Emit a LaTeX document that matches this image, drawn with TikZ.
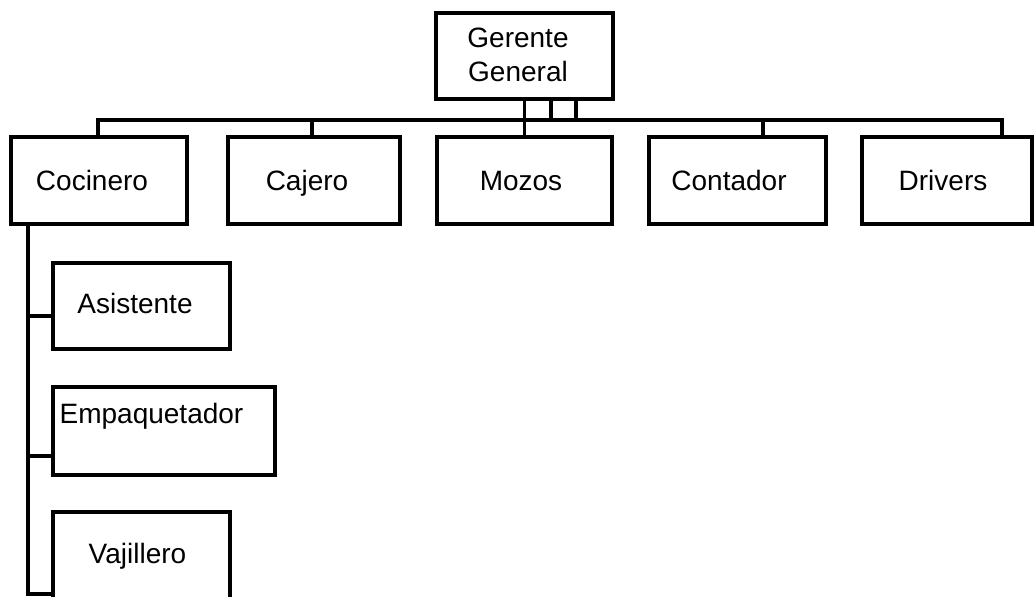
\documentclass[tikz,border=0pt]{standalone}
\usepackage{fontspec}
\setmainfont{Liberation Sans}
\usetikzlibrary{positioning}

\begin{document}
\begin{tikzpicture}[x=1pt, y=-1pt, line width=3.1pt,
    box/.style={draw, rectangle, minimum height=87pt, inner sep=0pt},
    lbl/.style={anchor=base, inner sep=0pt, font=\fontsize{28}{34}\selectfont}]
    \path[use as bounding box, clip] (0,0) rectangle (1034,597);
    \fill[white] (0,0) rectangle (1034,597);
    % Draw boxes
    \node[box, minimum width=177pt, minimum height=86pt] (gg) at (524.5,56) {};
    \node[box, minimum width=176pt] (coc) at (99,180.5) {};
    \node[box, minimum width=172pt] (caj) at (314,180.5) {};
    \node[box, minimum width=175pt] (moz) at (524.5,180.5) {};
    \node[box, minimum width=177pt] (con) at (737.5,180.5) {};
    \node[box, minimum width=170pt] (drv) at (947,180.5) {};
    \node[box, minimum width=177pt, minimum height=86pt] (asi) at (141.5,306) {};
    \node[box, minimum width=222pt, minimum height=88pt] (emp) at (164,431) {};
    \node[box, minimum width=177pt, minimum height=88pt] (vaj) at (141.5,556) {};
    % Draw labels
    \node[lbl, anchor=center, align=center] (ggt) at (518,55) {Gerente\\General};
    \node[lbl] (coct) at (92,190) {Cocinero};
    \node[lbl] (cajt) at (307,190) {Cajero};
    \node[lbl] (mozt) at (521,190) {Mozos};
    \node[lbl] (cont) at (729,190) {Contador};
    \node[lbl] (drvt) at (943,190) {Drivers};
    \node[lbl] (asit) at (135,313) {Asistente};
    \node[lbl] (empt) at (151.5,423) {Empaquetador};
    \node[lbl] (vajt) at (137.5,563) {Vajillero};
    % Draw top bus
    \coordinate (bus) at (98,120);
    \draw (coc.north -| bus) |- ([xshift=55pt]drv.north |- bus) -- ([xshift=55pt]drv.north);
    \draw ([xshift=-2pt]caj.north) -- ([xshift=-2pt]caj.north |- bus);
    \draw (moz.north) -- (gg.south);
    \draw ([xshift=26.5pt]gg.south) -- ([xshift=26.5pt]gg.south |- bus);
    \draw ([xshift=51.5pt]gg.south) -- ([xshift=51.5pt]gg.south |- bus);
    \draw ([xshift=25.5pt]con.north) -- ([xshift=25.5pt]con.north |- bus);
    % Draw left branch
    \coordinate (spine) at (28,0);
    \draw (spine |- coc.south) |- ([yshift=-38pt]vaj.west);
    \draw ([yshift=-10pt]asi.west) -- ++(-25,0);
    \draw ([yshift=-25pt]emp.west) -- ++(-25,0);
\end{tikzpicture}
\end{document}
